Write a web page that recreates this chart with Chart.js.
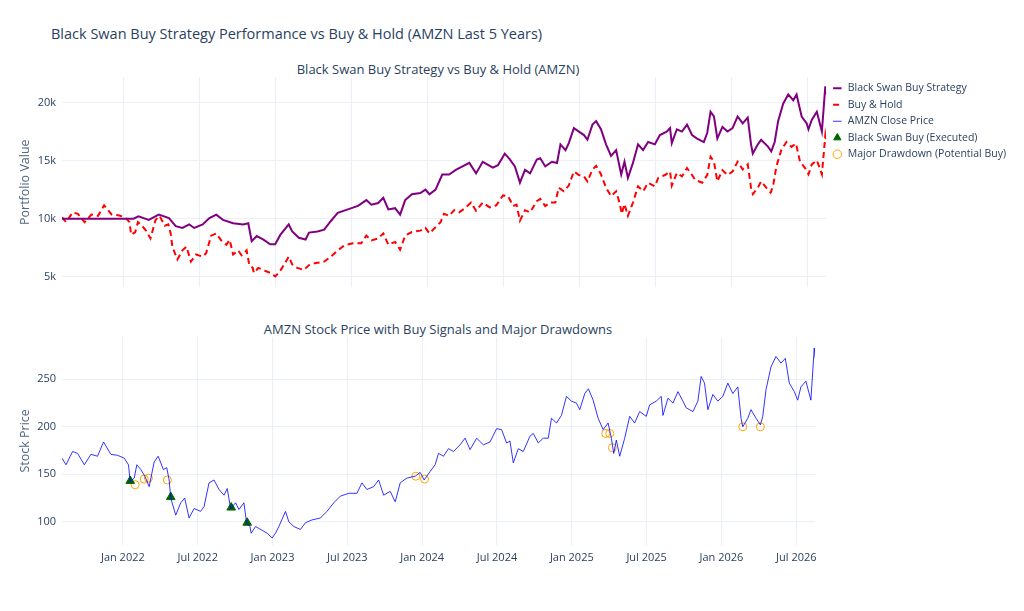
<!DOCTYPE html>
<html><head><meta charset="utf-8">
<script src="https://cdn.jsdelivr.net/npm/chart.js@4"></script>
<style>
body{margin:0;background:#fff;font-family:"Open Sans",sans-serif;}
#wrap{position:relative;width:1024px;height:611px;}
.t{position:absolute;color:#2a3f5f;white-space:nowrap;}
canvas{position:absolute;left:0;}
</style></head><body><div id="wrap">
<div class="t" style="left:51px;top:24px;font-size:14.5px;">Black Swan Buy Strategy Performance vs Buy &amp; Hold (AMZN Last 5 Years)</div>
<div class="t" style="left:438px;top:60px;font-size:13px;transform:translateX(-50%);">Black Swan Buy Strategy vs Buy &amp; Hold (AMZN)</div>
<div class="t" style="left:438px;top:320px;font-size:13px;transform:translateX(-50%);">AMZN Stock Price with Buy Signals and Major Drawdowns</div>
<canvas id="c1" style="top:60px;width:1024px;height:240px"></canvas>
<canvas id="c2" style="top:320px;width:1024px;height:250px"></canvas>
</div>
<script>
// x values are months since Jan 2022
const monthLabels=["Jan 2022","Jul 2022","Jan 2023","Jul 2023","Jan 2024","Jul 2024","Jan 2025","Jul 2025","Jan 2026","Jul 2026"];
const priceX=[-4.88,-4.56,-4.03,-3.63,-3.09,-2.56,-2.03,-1.55,-0.96,-0.43,
0.11,0.45,0.59,0.91,1.12,1.44,1.76,2.11,2.51,2.83,
3.25,3.52,3.71,3.84,4.24,4.64,4.96,5.31,5.71,6.24,
6.51,6.91,7.31,7.71,8.11,8.37,8.64,9.04,9.31,9.71,
9.92,10.19,10.29,10.64,11.17,11.57,11.97,12.24,12.51,13.04,
13.31,13.71,14.24,14.64,15.17,15.84,16.37,16.91,17.44,18.11,
18.77,19.17,19.57,20.11,20.51,20.91,21.44,21.84,22.24,22.77,
23.44,23.84,24.16,
24.64,25.04,25.31,25.71,26.11,26.51,27.04,27.44,27.84,28.37,
28.91,29.44,29.97,30.37,30.77,31.04,31.31,31.71,32.11,32.64,
32.91,33.31,33.71,34.11,34.37,34.77,35.17,35.57,35.97,36.37,
36.64,37.04,37.33,37.71,38.11,38.51,38.91,39.17,39.36,39.57,
39.84,40.24,40.64,41.04,41.44,41.97,42.24,42.77,43.17,43.31,
43.71,44.11,44.51,44.91,45.17,45.71,46.11,46.37,46.64,46.91,
47.31,47.71,48.11,48.51,48.91,49.31,49.57,49.71,50.11,50.37,
50.77,51.12,51.31,51.57,51.97,52.37,52.77,53.12,53.44,53.84,
54.11,54.37,54.77,55.17,55.44,55.52];
const closePrice=[167,160,174,172,160,171,169,184,171,170,
167,160,142,146,160,155,148,137,163,169,
155,157,144,125,107,120,125,104,114,111,
116,141,144,134,128,135,114,120,113,120,
99,95,88,95,91,88,83,88,95,111,
100,95,92,99,102,104,111,120,127,130,
130,141,134,137,144,128,132,121,141,146,
148,152,144,
153,160,172,169,177,174,181,188,176,188,
181,184,198,197,183,185,162,177,174,190,
193,183,188,188,209,204,212,232,227,225,
218,235,240,228,209,197,204,188,172,186,
169,188,211,204,216,211,223,227,232,212,
230,225,237,227,220,216,227,253,246,218,
234,227,232,246,235,242,209,200,209,218,
209,202,211,239,263,274,267,272,246,237,
228,242,248,228,283,272];
const buyHold=[10120,9700,10540,10420,9700,10360,10240,11150,10360,10300,
10120,9700,8610,8850,9700,9390,8970,8300,9880,10240,
9390,9510,8730,7580,6480,7270,7580,6300,6910,6730,
7030,8540,8730,8120,7760,8180,6910,7270,6850,7270,
6000,5760,5330,5760,5510,5330,5030,5330,5760,6730,
6060,5760,5580,6000,6180,6300,6730,7270,7700,7880,
7880,8540,8120,8300,8730,7760,8000,7330,8540,8850,
8970,9210,8730,
9270,9700,10420,10240,10730,10540,10970,11390,10670,11390,
10970,11150,12000,11940,11090,11210,9820,10730,10540,11510,
11700,11090,11390,11390,12670,12360,12850,14060,13760,13640,
13210,14240,14540,13820,12670,11940,12360,11390,10420,11270,
10240,11390,12790,12360,13090,12790,13510,13760,14060,12850,
13940,13640,14360,13760,13330,13090,13760,15330,14910,13210,
14180,13760,14060,14910,14240,14670,12670,12120,12670,13210,
12670,12240,12790,14480,15940,16600,16180,16480,14910,14360,
13820,14670,15030,13820,17150,16480];
const stratX=[-4.88,0.77,1.17,1.97,2.77,3.57,4.11,4.64,5.17,5.57,6.24,6.77,7.31,7.84,8.64,9.44,9.84,10.11,10.51,11.04,
11.57,11.97,12.37,13.04,13.31,13.84,14.37,14.64,15.31,15.84,16.37,16.91,17.71,18.51,19.17,19.57,20.11,20.51,20.91,21.44,
21.84,22.24,22.77,23.44,23.84,24.16,
24.64,25.17,25.71,26.24,27.31,27.84,28.37,29.17,29.57,30.11,30.51,30.91,31.31,31.71,32.11,32.64,32.91,33.31,33.84,34.24,
34.51,34.91,35.17,35.57,35.97,36.37,36.64,37.04,37.33,37.71,38.11,38.51,38.91,39.31,39.57,39.84,40.24,40.64,41.04,41.44,
41.97,42.37,42.91,43.17,43.31,43.71,44.11,44.51,44.91,45.31,45.84,46.11,46.37,46.64,46.91,47.31,47.71,48.11,48.51,48.91,
49.31,49.57,49.71,50.11,50.37,50.91,51.17,51.44,51.71,52.11,52.51,52.91,53.17,53.57,53.97,54.11,54.37,54.77,55.17,55.44,55.52];
const stratValue=[10000,10000,10200,9900,10350,10050,9350,9200,9500,9200,9500,10050,10350,9900,9600,9500,9600,8060,8500,8200,
7800,7800,8600,9500,8900,8350,8200,8800,8900,9050,9800,10500,10800,11100,11600,11200,11350,11800,10800,10900,
10350,11600,12100,12200,12500,12100,
12500,13800,13800,14200,14800,13900,14900,14400,14600,15600,15100,14500,13100,14200,13900,15100,15200,14500,14900,14800,
16400,15900,16500,17800,17500,17200,16800,18100,18400,17700,16400,15400,15900,13800,14900,13500,14800,16400,15900,16600,
16400,17200,17500,17800,16500,17700,17500,18100,17200,16900,16600,17400,19200,18800,16900,17900,17500,17800,18800,18200,
18700,16400,15600,16400,16800,16200,15800,16600,18400,19900,20700,20200,20700,18800,18200,17700,18500,19200,17500,21400,20700];
const buyX=[0.59,3.84,8.69,9.97];
const buyPrice=[143,126,115,99];
const ddX=[0.99,1.71,2.05,3.57,23.49,24.19,38.72,39.04,39.25,49.71,51.12];
const ddPrice=[139,145,146,144,148,145,193,193,178,200,200];

const pts=(xs,ys)=>xs.map((x,i)=>({x:x,y:ys[i]}));
const grid='#ebf0f8', tc='#2a3f5f';
const font={family:'"Open Sans", sans-serif',size:11};
function xScale(showLabels){
  return {type:'linear',min:-4.88,max:55.5,border:{display:false},
    grid:{color:grid,drawTicks:false},
    afterBuildTicks:s=>{s.ticks=monthLabels.map((l,i)=>({value:i*6}));},
    ticks:{display:showLabels,color:tc,font:font,padding:6,autoSkip:false,maxRotation:0,
      callback:v=>monthLabels[Math.round(v/6)]}};
}
function yScale(min,max,ticks,fmt,title){
  return {type:'linear',min:min,max:max,border:{display:false},
    grid:{color:grid,drawTicks:false},
    afterBuildTicks:s=>{s.ticks=ticks.map(v=>({value:v}));},
    afterFit:s=>{s.width=44;},
    title:{display:true,text:title,color:'#506784',font:{family:font.family,size:12.5},padding:{top:0,bottom:0}},
    ticks:{color:tc,font:font,padding:6,callback:fmt}};
}
const common={responsive:false,animation:false,devicePixelRatio:1};

new Chart(document.getElementById('c1'),{type:'line',
 data:{datasets:[
  {label:'Black Swan Buy Strategy',data:pts(stratX,stratValue),borderColor:'#800080',borderWidth:2,pointRadius:0,tension:0},
  {label:'Buy & Hold',data:pts(priceX,buyHold),borderColor:'#ff0000',borderWidth:2,borderDash:[6,4],pointRadius:0,tension:0},
  {label:'AMZN Close Price',data:[],borderColor:'rgba(0,0,255,0.8)',borderWidth:1,pointRadius:0},
  {label:'Black Swan Buy (Executed)',data:[],showLine:false,pointStyle:'triangle',backgroundColor:'#006400',borderColor:'#006400'},
  {label:'Major Drawdown (Potential Buy)',data:[],showLine:false,pointStyle:'circle',backgroundColor:'rgba(0,0,0,0)',borderColor:'#ffa500'}
 ]},
 options:Object.assign({},common,{
  layout:{padding:{top:17,bottom:12,right:8,left:18}},
  scales:{x:xScale(false),y:yScale(4080,22200,[5000,10000,15000,20000],v=>(v/1000)+'k','Portfolio Value')},
  plugins:{tooltip:{enabled:false},legend:{position:'right',align:'start',
    labels:{usePointStyle:true,color:tc,font:{family:font.family,size:10.5},padding:6,boxHeight:6,
      generateLabels:ch=>ch.data.datasets.map((d,i)=>({text:d.label,datasetIndex:i,
        pointStyle:i<3?'line':d.pointStyle,strokeStyle:d.borderColor,fillStyle:i===3?'#006400':'rgba(0,0,0,0)',
        lineWidth:i<2?2:1,lineDash:d.borderDash||[],fontColor:tc}))}}}
 })});

new Chart(document.getElementById('c2'),{type:'line',
 data:{datasets:[
  {label:'AMZN Close Price',data:pts(priceX,closePrice),borderColor:'rgba(0,0,255,0.8)',borderWidth:1,pointRadius:0,tension:0},
  {label:'Black Swan Buy (Executed)',data:pts(buyX,buyPrice),showLine:false,pointStyle:'triangle',pointRadius:5,backgroundColor:'#006400',borderColor:'#006400'},
  {label:'Major Drawdown (Potential Buy)',data:pts(ddX,ddPrice),showLine:false,pointStyle:'circle',pointRadius:4,borderWidth:1,backgroundColor:'rgba(0,0,0,0)',borderColor:'#ffa500'}
 ]},
 options:Object.assign({},common,{
  layout:{padding:{top:17,right:209,bottom:0,left:18}},
  scales:{x:xScale(true),y:yScale(75.8,294.5,[100,150,200,250],v=>v,'Stock Price')},
  plugins:{tooltip:{enabled:false},legend:{display:false}}
 })});
</script></body></html>
